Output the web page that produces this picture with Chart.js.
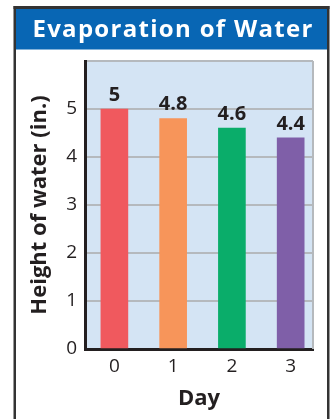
<!DOCTYPE html>
<html>
<head>
<meta charset="utf-8">
<script src="https://cdn.jsdelivr.net/npm/chart.js@4.4.1/dist/chart.umd.min.js"></script>
<style>
  html, body { margin: 0; padding: 0; background: #ffffff; }
  #wrap { width: 333px; height: 419px; position: relative; }
</style>
</head>
<body>
<div id="wrap"><canvas id="chart" width="333" height="419"></canvas></div>
<script>
// Water height measured each day
const days = [0, 1, 2, 3];
const heights = [5, 4.8, 4.6, 4.4];
const barColors = ['#F0595E', '#F7955A', '#0AAD6A', '#7F5FA8'];
const yTicks = [0, 1, 2, 3, 4, 5];
const chartTitle = 'Evaporation of Water';

const FONT = "'Open Sans', 'Noto Sans', sans-serif";

// Frame, blue title band with its heading, and the pale plot background
const framePlugin = {
  id: 'frame',
  beforeDraw(chart) {
    const { ctx, chartArea: a } = chart;
    ctx.save();
    ctx.fillStyle = '#ffffff';
    ctx.fillRect(0, 0, chart.width, chart.height);
    // outer frame
    ctx.fillStyle = '#333333';
    ctx.fillRect(13.5, 6, 316, 3);
    ctx.fillRect(13.5, 6, 2.5, chart.height);
    ctx.fillRect(327, 6, 2.5, chart.height);
    // title band
    ctx.fillStyle = '#0866B4';
    ctx.fillRect(16, 9, 311, 40.5);
    // heading
    ctx.fillStyle = '#ffffff';
    ctx.font = `bold 24px ${FONT}`;
    if ('letterSpacing' in ctx) ctx.letterSpacing = '1.3px';
    ctx.textAlign = 'center';
    ctx.textBaseline = 'alphabetic';
    ctx.fillText(chartTitle, 173, 37);
    if ('letterSpacing' in ctx) ctx.letterSpacing = '0px';
    // plot background
    ctx.fillStyle = '#D4E4F4';
    ctx.fillRect(a.left, a.top, a.right - a.left, a.bottom - a.top);
    ctx.restore();
  },
  beforeDatasetsDraw(chart) {
    const { ctx, chartArea: a } = chart;
    ctx.save();
    ctx.strokeStyle = '#B5B9BD';
    ctx.lineWidth = 2;
    ctx.beginPath();
    ctx.moveTo(a.right, a.top);
    ctx.lineTo(a.right, a.bottom);
    ctx.stroke();
    ctx.restore();
  }
};

// Value written above each bar
const valueLabels = {
  id: 'valueLabels',
  afterDatasetsDraw(chart) {
    const { ctx } = chart;
    const meta = chart.getDatasetMeta(0);
    ctx.save();
    ctx.fillStyle = '#231F20';
    ctx.font = `bold 20px ${FONT}`;
    ctx.textAlign = 'center';
    ctx.textBaseline = 'bottom';
    meta.data.forEach((bar, i) => {
      ctx.fillText(String(heights[i]), bar.x, bar.y - 4);
    });
    ctx.restore();
  }
};

new Chart(document.getElementById('chart'), {
  type: 'bar',
  data: {
    datasets: [{
      data: days.map((d, i) => ({ x: d, y: heights[i] })),
      backgroundColor: barColors,
      borderWidth: 0,
      barThickness: 27
    }]
  },
  options: {
    responsive: false,
    animation: false,
    events: [],
    layout: { padding: { top: 61, right: 20, left: 0, bottom: 0 } },
    plugins: {
      legend: { display: false },
      tooltip: { enabled: false },
      title: { display: false }
    },
    scales: {
      x: {
        type: 'linear',
        offset: false,
        min: -0.5,
        max: 3.38,
        z: 1,
        afterBuildTicks(scale) {
          scale.ticks = days.map(d => ({ value: d }));
        },
        afterFit(scale) { scale.height = 70; },
        grid: { display: false, drawTicks: false },
        border: { display: true, color: '#231F20', width: 3 },
        ticks: {
          color: '#231F20',
          padding: 6,
          font: { family: FONT, size: 19 },
          callback: v => String(v)
        },
        title: {
          display: true,
          text: 'Day',
          color: '#231F20',
          font: { family: FONT, size: 22, weight: 'bold' },
          padding: { top: 0, bottom: 7 }
        }
      },
      y: {
        min: 0,
        max: 6,
        afterBuildTicks(scale) {
          scale.ticks = yTicks.concat([6]).map(v => ({ value: v }));
        },
        afterFit(scale) { scale.width = 85; },
        grid: { color: '#B5B9BD', lineWidth: 2, drawTicks: false },
        border: { display: true, color: '#231F20', width: 3 },
        ticks: {
          color: '#231F20',
          padding: 8,
          font: { family: FONT, size: 19 },
          callback: v => (yTicks.includes(v) ? String(v) : '')
        },
        title: {
          display: true,
          text: 'Height of water (in.)',
          color: '#231F20',
          font: { family: FONT, size: 22, weight: 'bold' },
          padding: { top: 27, bottom: 0 }
        }
      }
    }
  },
  plugins: [framePlugin, valueLabels]
});
</script>
</body>
</html>
